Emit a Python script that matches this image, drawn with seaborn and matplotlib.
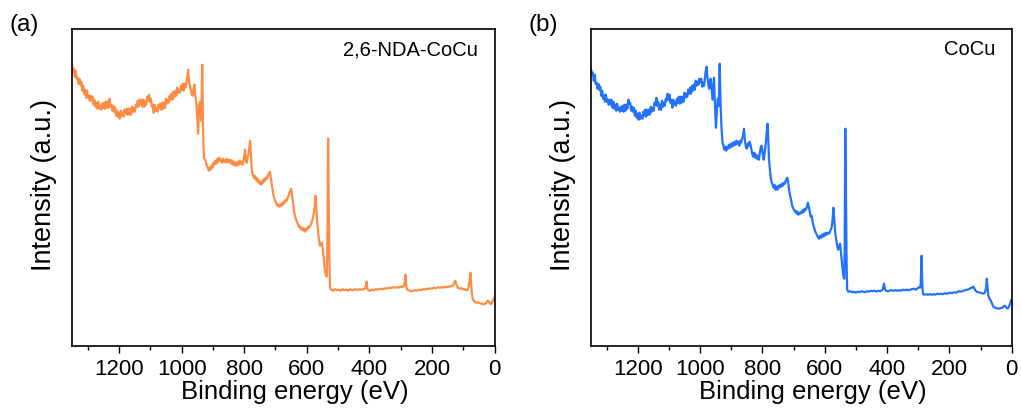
import matplotlib
matplotlib.use("Agg")
import matplotlib.pyplot as plt
from matplotlib.ticker import MultipleLocator, NullLocator
import pandas as pd
import seaborn as sns

# XPS survey spectra: (binding energy in eV, intensity in a.u.)
survey_nda = [
    (1350, 281), (1347, 274), (1344, 277), (1341, 269), (1338, 275), (1335, 267),
    (1332, 268), (1329, 262), (1326, 267), (1323, 261), (1320, 264), (1317, 255),
    (1314, 260), (1311, 252), (1308, 256), (1305, 248), (1302, 255), (1299, 248),
    (1296, 250), (1293, 245), (1290, 250), (1287, 245), (1284, 249), (1281, 241),
    (1278, 246), (1275, 239), (1272, 243), (1269, 237), (1266, 244), (1263, 237),
    (1260, 240), (1257, 236), (1254, 242), (1251, 238), (1248, 243), (1245, 237),
    (1242, 244), (1239, 238), (1236, 244), (1233, 238), (1230, 247), (1227, 239),
    (1224, 241), (1221, 235), (1218, 240), (1215, 234), (1212, 238), (1209, 230),
    (1206, 235), (1203, 229), (1200, 233), (1197, 227), (1194, 235), (1191, 230),
    (1188, 233), (1185, 229), (1182, 236), (1179, 232), (1176, 237), (1173, 231),
    (1170, 237), (1167, 231), (1164, 237), (1161, 231), (1158, 239), (1155, 234),
    (1152, 238), (1149, 234), (1146, 241), (1143, 239), (1140, 245), (1137, 239),
    (1134, 246), (1131, 242), (1128, 246), (1125, 239), (1122, 246), (1119, 239),
    (1116, 244), (1113, 241), (1110, 249), (1107, 245), (1104, 251), (1101, 244),
    (1098, 247), (1095, 239), (1092, 241), (1089, 233), (1086, 241), (1083, 235),
    (1080, 238), (1077, 234), (1074, 241), (1071, 237), (1068, 242), (1065, 236),
    (1062, 243), (1059, 237), (1056, 243), (1053, 238), (1050, 247), (1047, 242),
    (1044, 246), (1041, 243), (1038, 250), (1035, 246), (1032, 252), (1029, 246),
    (1026, 254), (1023, 249), (1020, 255), (1017, 250), (1014, 258), (1011, 253),
    (1008, 256), (1005, 253), (1002, 260), (999, 256), (996, 262), (993, 255),
    (990, 262), (987, 258),
    (982, 268), (979, 276), (976, 264), (972, 258),
    (968, 252), (965, 250), (962, 256), (959, 261), (956, 250), (953, 244),
    (950, 228), (947, 212), (944, 240), (941, 244), (939, 236), (937, 225),
    (934, 281), (932, 230), (930, 200), (928, 188), (925, 186), (922, 183),
    (919, 180), (916, 178), (913, 175), (910, 178), (907, 176), (904, 180),
    (901, 178), (898, 183), (895, 181), (892, 185), (889, 182), (886, 187),
    (883, 184), (880, 188), (877, 185), (874, 186), (871, 183), (868, 187),
    (865, 184), (862, 186), (859, 183), (856, 187), (853, 184), (850, 186),
    (847, 183), (844, 186), (841, 182), (838, 185), (835, 181), (832, 184),
    (829, 180), (826, 183), (823, 180), (820, 184), (817, 181), (814, 185),
    (811, 182), (808, 184), (805, 181), (802, 186), (799, 192), (797, 196),
    (795, 186), (792, 183), (789, 188), (786, 192), (783, 200), (781, 205),
    (779, 194), (777, 182), (775, 174), (772, 171), (769, 168), (766, 170),
    (763, 166), (760, 168), (757, 164), (754, 166), (751, 162), (748, 164),
    (745, 161), (742, 165), (739, 163), (736, 167), (733, 165), (730, 168),
    (727, 167), (724, 171), (721, 172), (718, 174), (715, 168), (712, 162),
    (709, 155), (706, 150), (703, 147), (700, 144), (697, 142), (694, 140),
    (691, 141), (688, 139), (685, 141), (682, 140), (679, 143), (676, 141),
    (673, 144), (670, 143), (667, 146), (664, 145), (661, 148), (658, 150),
    (655, 153), (652, 156), (650, 157), (647, 150), (644, 143), (641, 135),
    (638, 130), (635, 127), (632, 124), (629, 122), (626, 119), (623, 120),
    (620, 117), (617, 116), (614, 118), (611, 115), (608, 117), (605, 114),
    (602, 117), (599, 116), (596, 119), (593, 118), (590, 120), (587, 121),
    (584, 124), (581, 127), (578, 132), (575, 138), (572, 150), (570, 140),
    (567, 124), (564, 114), (561, 106), (558, 100), (555, 101), (552, 103),
    (550, 99), (548, 94), (546, 87), (544, 81), (542, 76), (540, 72),
    (538, 70), (536, 69), (534, 110), (532, 207), (530, 150), (528, 90),
    (526, 58), (522, 56), (516, 55), (510, 56.5), (504, 55.5), (498, 56),
    (492, 55), (486, 56.5), (480, 55.5), (474, 56), (468, 55), (462, 56.5),
    (456, 55.5), (450, 56), (444, 56.5), (438, 55.5), (432, 56.5), (426, 56),
    (420, 56.5), (414, 57), (411, 60), (409, 64), (407, 58), (404, 55.5),
    (398, 55), (392, 56), (386, 55.5), (380, 56.5), (374, 56), (368, 56.5),
    (362, 57), (356, 56.5), (350, 57.5), (344, 57), (338, 58), (332, 57.5),
    (326, 58.5), (320, 58), (314, 58.5), (308, 58), (302, 59), (296, 58.5),
    (290, 60), (287, 63), (285, 71), (283, 62), (281, 57), (277, 55.5),
    (272, 55), (266, 54.5), (260, 55), (254, 55.5), (248, 55), (242, 56),
    (236, 55.5), (230, 56.5), (224, 56), (218, 57), (212, 56.5), (206, 57.5),
    (200, 57), (194, 58), (188, 57.5), (182, 58.5), (176, 58), (170, 58.5),
    (164, 58), (158, 59), (152, 58.5), (146, 59.5), (140, 59), (134, 60),
    (130, 62), (126, 65), (122, 61), (118, 58), (112, 57), (106, 57.5),
    (100, 56.5), (94, 56), (88, 55.5), (84, 58), (80, 65), (77, 73),
    (75, 62), (73, 52), (70, 47), (66, 44.5), (60, 43), (54, 43.5),
    (48, 42.5), (42, 42), (36, 41.5), (30, 42), (26, 43.5), (22, 45),
    (18, 44), (14, 41.5), (10, 42), (6, 45), (3, 47), (0, 49),
]

survey_cocu = [
    (1350, 277), (1347, 271), (1344, 273), (1341, 265), (1338, 271), (1335, 262),
    (1332, 263), (1329, 257), (1326, 262), (1323, 256), (1320, 259), (1317, 250),
    (1314, 255), (1311, 247), (1308, 251), (1305, 244), (1302, 251), (1299, 244),
    (1296, 246), (1293, 241), (1290, 246), (1287, 241), (1284, 246), (1281, 238),
    (1278, 244), (1275, 237), (1272, 241), (1269, 235), (1266, 242), (1263, 236),
    (1260, 238), (1257, 234), (1254, 239), (1251, 235), (1248, 240), (1245, 234),
    (1242, 241), (1239, 235), (1236, 241), (1233, 237), (1230, 246), (1227, 242),
    (1224, 243), (1221, 235), (1218, 239), (1215, 234), (1212, 238), (1209, 230),
    (1206, 235), (1203, 228), (1200, 232), (1197, 226), (1194, 233), (1191, 227),
    (1188, 230), (1185, 227), (1182, 234), (1179, 230), (1176, 236), (1173, 229),
    (1170, 236), (1167, 231), (1164, 236), (1161, 231), (1158, 239), (1155, 234),
    (1152, 238), (1149, 235), (1146, 243), (1143, 241), (1140, 248), (1137, 240),
    (1134, 244), (1131, 236), (1128, 241), (1125, 236), (1122, 245), (1119, 239),
    (1116, 243), (1113, 240), (1110, 247), (1107, 245), (1104, 252), (1101, 246),
    (1098, 251), (1095, 243), (1092, 246), (1089, 238), (1086, 246), (1083, 241),
    (1080, 244), (1077, 240), (1074, 247), (1071, 243), (1068, 249), (1065, 242),
    (1062, 249), (1059, 243), (1056, 249), (1053, 244), (1050, 253), (1047, 248),
    (1044, 252), (1041, 249), (1038, 256), (1035, 252), (1032, 258), (1029, 252),
    (1026, 260), (1023, 255), (1020, 261), (1017, 256), (1014, 265), (1011, 260),
    (1008, 264), (1005, 261), (1002, 267), (999, 264), (996, 267), (993, 259),
    (990, 263), (987, 260),
    (982, 274), (979, 279), (976, 268), (973, 260),
    (971, 257), (968, 264), (966, 267), (963, 256), (960, 246), (957, 262),
    (955, 268), (952, 240), (949, 218), (946, 235), (943, 247), (940, 240),
    (937, 282), (934, 240), (931, 217), (928, 204), (925, 200), (922, 196),
    (919, 199), (916, 195), (913, 199), (910, 197), (907, 201), (904, 198),
    (901, 202), (898, 199), (895, 203), (892, 200), (889, 204), (886, 201),
    (883, 205), (880, 202), (877, 204), (874, 200), (871, 205), (868, 203),
    (865, 207), (862, 210), (859, 217), (856, 205), (853, 199), (850, 197),
    (847, 202), (844, 200), (841, 204), (838, 201), (835, 196), (832, 191),
    (829, 189), (826, 193), (823, 188), (820, 191), (817, 187), (814, 190),
    (811, 186), (808, 193), (805, 199), (802, 200), (799, 192), (796, 186),
    (793, 192), (790, 200), (787, 210), (785, 218), (783, 222), (781, 205),
    (779, 188), (776, 177), (773, 168), (770, 163), (767, 161), (764, 158),
    (761, 161), (758, 156), (755, 159), (752, 156), (749, 160), (746, 158),
    (743, 161), (740, 159), (737, 162), (734, 160), (731, 163), (728, 162),
    (725, 165), (722, 167), (720, 168), (717, 163), (714, 155), (711, 150),
    (708, 146), (705, 141), (702, 138), (699, 136), (696, 134), (693, 135),
    (690, 132), (687, 134), (684, 131), (681, 133), (678, 132), (675, 134),
    (672, 133), (669, 136), (666, 134), (663, 137), (660, 136), (657, 139),
    (654, 143), (651, 139), (648, 134), (645, 129), (642, 130), (639, 124),
    (636, 120), (633, 117), (630, 114), (627, 112), (624, 110), (621, 108),
    (618, 107), (615, 110), (612, 108), (609, 111), (606, 109), (603, 112),
    (600, 110), (597, 113), (594, 111), (590, 113), (586, 112), (582, 115),
    (578, 118), (575, 125), (572, 138), (569, 125), (566, 112), (563, 106),
    (560, 100), (557, 96), (554, 98), (551, 102), (549, 97), (547, 90),
    (545, 84), (543, 78), (541, 72), (539, 68), (537, 67), (536, 100),
    (534, 217), (532, 160), (530, 90), (528, 56), (524, 54), (518, 54.5),
    (512, 53.5), (506, 54), (500, 53), (494, 54), (488, 53.5), (482, 54.5),
    (476, 54), (470, 53.5), (464, 54.5), (458, 54), (452, 55), (446, 54.5),
    (440, 55), (434, 54), (428, 55), (422, 54.5), (416, 55.5), (413, 57),
    (410, 62), (407, 57), (404, 55), (398, 54.5), (392, 55), (386, 55.5),
    (380, 55), (374, 55.5), (368, 55), (362, 55.5), (356, 55), (350, 56),
    (344, 55.5), (338, 56), (332, 55.5), (326, 56), (320, 56.5), (314, 57),
    (308, 56), (302, 57.5), (298, 58.5), (294, 58), (292, 62), (289, 90),
    (287, 62), (285, 52), (281, 51), (275, 51.5), (269, 51), (263, 51.5),
    (257, 51), (251, 51.5), (245, 51), (239, 52), (233, 51.5), (227, 52),
    (221, 51.5), (215, 52.5), (209, 52), (203, 52.5), (197, 53), (191, 52.5),
    (185, 53.5), (179, 53), (173, 54), (167, 54.5), (161, 54), (155, 55),
    (149, 55.5), (143, 56), (137, 56.5), (133, 57.5), (128, 58), (123, 59),
    (118, 56), (113, 54), (107, 53.5), (101, 53), (96, 52.5), (91, 52),
    (86, 53), (82, 58), (80, 67), (78, 60), (75, 50), (71, 47),
    (67, 45), (63, 42), (59, 39), (54, 38), (48, 37.5), (42, 37),
    (36, 37.5), (30, 38), (25, 39.5), (21, 40), (17, 38), (13, 37),
    (9, 39), (5, 42), (2, 45), (0, 46),
]

panel_tags = ["(a)", "(b)"]
sample_names = ["2,6-NDA-CoCu", "CoCu"]
line_colors = ["#FF8C45", "#2372FF"]

sns.set_theme(style="ticks")
plt.rcParams["font.family"] = ["Liberation Sans", "DejaVu Sans"]
plt.rcParams["text.color"] = "black"
plt.rcParams["axes.labelcolor"] = "black"
plt.rcParams["xtick.color"] = "black"
plt.rcParams["ytick.color"] = "black"

fig = plt.figure(figsize=(10.21, 4.10), dpi=100)
axes = [
    fig.add_axes([0.0705, 0.1544, 0.4140, 0.7724]),
    fig.add_axes([0.5788, 0.1544, 0.4121, 0.7724]),
]

for ax, data, tag, name, color in zip(axes, [survey_nda, survey_cocu],
                                      panel_tags, sample_names, line_colors):
    df = pd.DataFrame(data, columns=["energy", "intensity"])
    sns.lineplot(data=df, x="energy", y="intensity", ax=ax, color=color,
                 linewidth=1.6, sort=False, estimator=None)
    ax.set_xlim(1350, 0)
    ax.set_ylim(0, 316.7)
    ax.xaxis.set_major_locator(MultipleLocator(200))
    ax.xaxis.set_minor_locator(MultipleLocator(100))
    ax.yaxis.set_major_locator(NullLocator())
    ax.yaxis.set_minor_locator(NullLocator())
    ax.tick_params(axis="x", which="major", direction="out", length=5,
                   width=1.0, labelsize=16, colors="black", pad=4)
    ax.tick_params(axis="x", which="minor", direction="out", length=3,
                   width=1.0, color="black")
    for sp in ax.spines.values():
        sp.set_linewidth(1.2)
        sp.set_color("black")
    ax.set_xlabel("Binding energy (eV)", fontsize=18.5, color="black")
    ax.xaxis.set_label_coords(0.528, -0.105)
    ax.set_ylabel("Intensity (a.u.)", fontsize=19.5, color="black")
    ax.yaxis.set_label_coords(-0.036, 0.51)
    ax.text(0.96, 0.937, name, transform=ax.transAxes, ha="right",
            va="center", fontsize=14.5, color="black")
    bbox = ax.get_position()
    fig.text(bbox.x0 - 0.061, 0.94, tag, ha="left", va="center",
             fontsize=17.5, color="black")

fig.savefig("out.png", dpi=100)
